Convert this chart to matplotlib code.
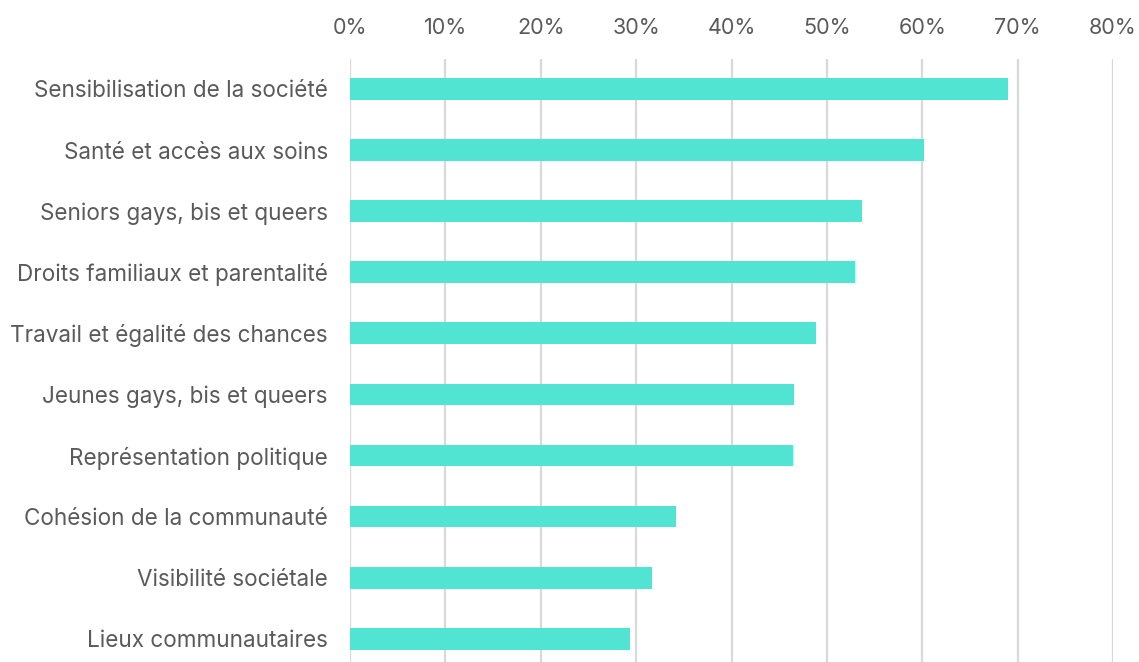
import matplotlib.pyplot as plt
from matplotlib.ticker import FuncFormatter, MultipleLocator

categories = [
    "Sensibilisation de la société",
    "Santé et accès aux soins",
    "Seniors gays, bis et queers",
    "Droits familiaux et parentalité",
    "Travail et égalité des chances",
    "Jeunes gays, bis et queers",
    "Représentation politique",
    "Cohésion de la communauté",
    "Visibilité sociétale",
    "Lieux communautaires",
]
values = [69.0, 60.2, 53.7, 53.0, 48.9, 46.6, 46.5, 34.2, 31.7, 29.4]

plt.rcParams["font.family"] = ["Inter", "DejaVu Sans"]
text_color = "#5a5a5a"

fig = plt.figure(figsize=(11.39, 6.62), dpi=100)
ax = fig.add_axes([350 / 1139, 0.0, (1113 - 350) / 1139, (662 - 59) / 662])

ypos = list(range(len(categories)))
ax.barh(ypos, values, height=0.355, color="#52E4D3", zorder=3)

ax.set_xlim(0, 80)
ax.set_ylim(9.38, -0.49)
ax.xaxis.set_major_locator(MultipleLocator(10))
ax.xaxis.set_major_formatter(FuncFormatter(lambda v, _: f"{v:.0f}%"))
ax.xaxis.tick_top()
ax.tick_params(axis="x", length=0, pad=15, labelsize=15.5, labelcolor=text_color)
ax.set_yticks(ypos)
ax.set_yticklabels(categories)
ax.tick_params(axis="y", length=0, pad=16, labelsize=16.2, labelcolor=text_color)

ax.grid(axis="x", color="#d9d9d9", linewidth=1.6, zorder=0)
for s in ax.spines.values():
    s.set_visible(False)

fig.savefig("out.png", dpi=100)
